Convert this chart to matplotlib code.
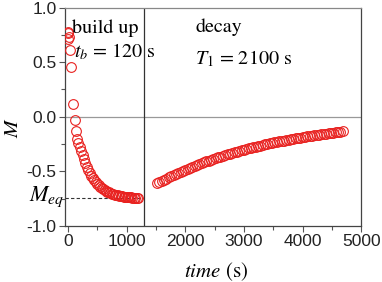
import matplotlib
matplotlib.use('Agg')
import matplotlib.pyplot as plt
from matplotlib.ticker import MultipleLocator, FormatStrFormatter

# build up (t in s, M)
buildup_t = [0, 10, 20, 5, 40, 55, 90, 115, 135, 155,
             175, 200, 225, 250, 275, 300, 325, 350, 375, 400,
             425, 450, 475, 500, 525, 550, 575, 600, 625, 650,
             675, 700, 725, 750, 775, 800, 825, 850, 875, 900,
             925, 950, 975, 1000, 1025, 1050, 1075, 1100, 1125, 1150,
             1175, 1200]
buildup_m = [0.78, 0.77, 0.73, 0.71, 0.61, 0.46, 0.12, -0.03, -0.13, -0.20,
             -0.24, -0.28, -0.315, -0.35, -0.387, -0.424, -0.458, -0.488, -0.515, -0.539,
             -0.561, -0.58, -0.598, -0.614, -0.628, -0.64, -0.652, -0.662, -0.671, -0.679,
             -0.686, -0.693, -0.699, -0.704, -0.709, -0.713, -0.717, -0.72, -0.723, -0.726,
             -0.729, -0.731, -0.733, -0.735, -0.736, -0.738, -0.739, -0.74, -0.741, -0.742,
             -0.743, -0.744]

# decay
decay_t = [1520, 1560, 1600, 1640, 1680, 1720, 1760, 1800, 1840, 1880,
           1920, 1960, 2000, 2040, 2080, 2120, 2160, 2200, 2240, 2280,
           2320, 2360, 2400, 2440, 2480, 2520, 2560, 2600, 2640, 2680,
           2720, 2760, 2800, 2840, 2880, 2920, 2960, 3000, 3040, 3080,
           3120, 3160, 3200, 3240, 3280, 3320, 3360, 3400, 3440, 3480,
           3520, 3560, 3600, 3640, 3680, 3720, 3760, 3800, 3840, 3880,
           3920, 3960, 4000, 4040, 4080, 4120, 4160, 4200, 4240, 4280,
           4320, 4360, 4400, 4440, 4480, 4520, 4560, 4600, 4640, 4680]
decay_m = [-0.610, -0.598, -0.588, -0.576, -0.566, -0.554, -0.545, -0.533, -0.524, -0.513,
           -0.505, -0.494, -0.486, -0.475, -0.468, -0.458, -0.450, -0.441, -0.433, -0.424,
           -0.417, -0.408, -0.402, -0.393, -0.386, -0.379, -0.371, -0.365, -0.357, -0.351,
           -0.344, -0.338, -0.331, -0.326, -0.319, -0.313, -0.307, -0.301, -0.296, -0.290,
           -0.285, -0.279, -0.274, -0.269, -0.264, -0.259, -0.254, -0.249, -0.245, -0.240,
           -0.235, -0.231, -0.226, -0.222, -0.218, -0.214, -0.210, -0.206, -0.202, -0.198,
           -0.195, -0.191, -0.187, -0.184, -0.180, -0.177, -0.173, -0.170, -0.167, -0.164,
           -0.161, -0.158, -0.155, -0.152, -0.149, -0.146, -0.143, -0.141, -0.138, -0.135]

m_eq = -0.745
t_switch = 1300

plt.rcParams['axes.unicode_minus'] = False
plt.rcParams['mathtext.fontset'] = 'stix'
plt.rcParams['font.family'] = 'Liberation Sans'

serif = 'STIXGeneral'
red = '#e8211f'

fig = plt.figure(figsize=(3.82, 2.82), dpi=100)
ax = fig.add_axes([0.170, 0.199, 0.776, 0.774])

ax.axhline(0, color='#999999', linewidth=0.9, zorder=1)
ax.axvline(t_switch, color='#333333', linewidth=0.9, zorder=1)
ax.plot([-50, t_switch], [m_eq, m_eq], color='#333333', linestyle='--',
        linewidth=0.8, dashes=(3, 2), zorder=1)

ax.plot(buildup_t, buildup_m, linestyle='none', marker='o', markersize=7,
        markerfacecolor='none', markeredgecolor=red, markeredgewidth=0.8, zorder=3)
ax.plot(decay_t, decay_m, linestyle='none', marker='o', markersize=7,
        markerfacecolor='none', markeredgecolor=red, markeredgewidth=0.8, zorder=3)

ax.set_xlim(-50, 5000)
ax.set_ylim(-1.0, 1.0)
ax.xaxis.set_major_locator(MultipleLocator(1000))
ax.xaxis.set_minor_locator(MultipleLocator(500))
ax.yaxis.set_major_locator(MultipleLocator(0.5))
ax.yaxis.set_minor_locator(MultipleLocator(0.25))
ax.yaxis.set_major_formatter(FormatStrFormatter('%.1f'))

ax.tick_params(which='both', direction='out', labelsize=12.5, color='#555555',
               labelcolor='#222222', width=0.8)
ax.tick_params(which='major', length=4)
ax.tick_params(which='minor', length=3)
ax.tick_params(axis='x', pad=2)
ax.tick_params(axis='y', pad=2)
for s in ax.spines.values():
    s.set_color('#444444')
    s.set_linewidth(0.9)
ax.spines['top'].set_color('#888888')

ax.set_xlabel(r'$time$ (s)', family=serif, fontsize=15)
ax.xaxis.set_label_coords(0.51, -0.16)
ax.set_ylabel(r'$M$', family=serif, fontsize=15)
ax.yaxis.set_label_coords(-0.14, 0.45)

ax.text(0.024, 0.905, 'build up', transform=ax.transAxes, family=serif,
        fontsize=14.5, va='center')
ax.text(0.032, 0.80, r'$t_b$ = 120 s', transform=ax.transAxes, family=serif,
        fontsize=14.5, va='center')
ax.text(0.44, 0.91, 'decay', transform=ax.transAxes, family=serif,
        fontsize=14.5, va='center')
ax.text(0.44, 0.765, r'$T_{\mathit{1}}$ = 2100 s', transform=ax.transAxes, family=serif,
        fontsize=14.5, va='center')
ax.text(-0.12, 0.135, r'$M_{eq}$', transform=ax.transAxes, family=serif,
        fontsize=16, va='center', ha='left')

plt.savefig('out.png', dpi=100)
plt.close(fig)
